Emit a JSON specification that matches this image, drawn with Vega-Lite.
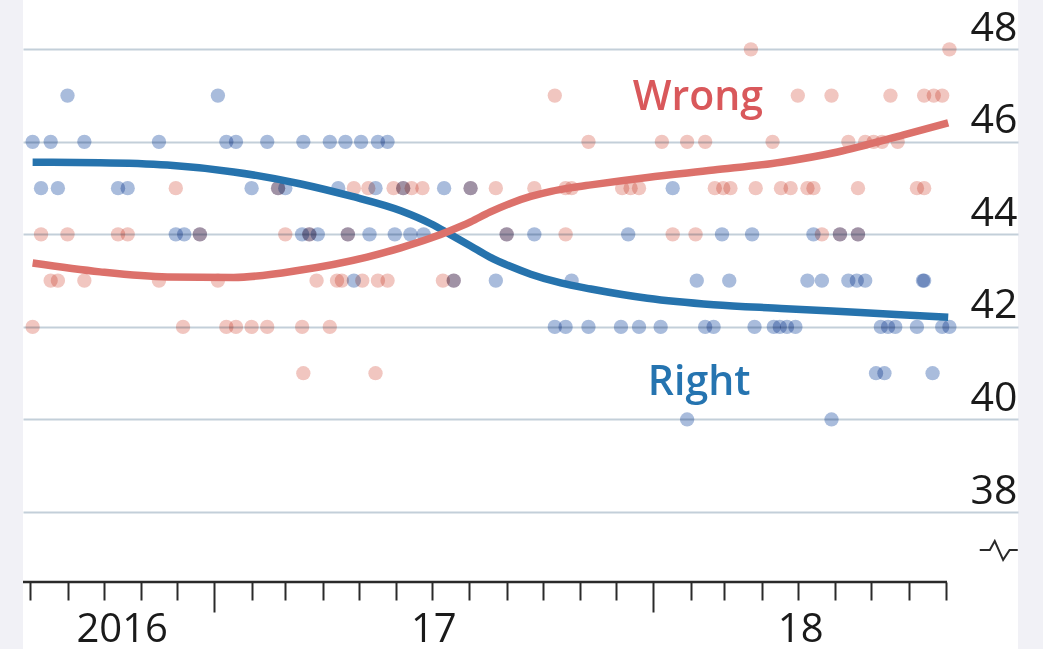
{
  "$schema": "https://vega.github.io/schema/vega-lite/v6.json",
  "autosize": {"type": "none"},
  "width": 995,
  "height": 649,
  "padding": {"left": 23, "right": 25, "top": 0, "bottom": 0},
  "background": "#f1f1f6",
  "config": {
    "view": {"fill": "white", "stroke": null},
    "axis": {"labelFont": "Open Sans", "labelColor": "#1a1a1a", "title": null}
  },
  "datasets": {
    "points": [
      {"s":"Right","d":"2016-09-01","v":47},{"s":"Right","d":"2017-01-04","v":47},
      {"s":"Right","d":"2016-08-03","v":46},{"s":"Right","d":"2016-08-18","v":46},{"s":"Right","d":"2016-09-15","v":46},{"s":"Right","d":"2016-11-16","v":46},{"s":"Right","d":"2017-01-11","v":46},{"s":"Right","d":"2017-01-19","v":46},{"s":"Right","d":"2017-02-14","v":46},{"s":"Right","d":"2017-03-16","v":46},{"s":"Right","d":"2017-04-07","v":46},{"s":"Right","d":"2017-04-20","v":46},{"s":"Right","d":"2017-05-03","v":46},{"s":"Right","d":"2017-05-17","v":46},{"s":"Right","d":"2017-05-25","v":46},
      {"s":"Right","d":"2016-08-10","v":45},{"s":"Right","d":"2016-08-24","v":45},{"s":"Right","d":"2016-10-13","v":45},{"s":"Right","d":"2016-10-21","v":45},{"s":"Right","d":"2017-02-01","v":45},{"s":"Right","d":"2017-02-23","v":45},{"s":"Right","d":"2017-03-01","v":45},{"s":"Right","d":"2017-04-14","v":45},{"s":"Right","d":"2017-05-15","v":45},{"s":"Right","d":"2017-06-07","v":45},{"s":"Right","d":"2017-07-11","v":45},{"s":"Right","d":"2017-08-02","v":45},{"s":"Right","d":"2018-01-17","v":45},
      {"s":"Right","d":"2016-11-30","v":44},{"s":"Right","d":"2016-12-07","v":44},{"s":"Right","d":"2016-12-20","v":44},{"s":"Right","d":"2017-03-15","v":44},{"s":"Right","d":"2017-03-21","v":44},{"s":"Right","d":"2017-03-28","v":44},{"s":"Right","d":"2017-04-22","v":44},{"s":"Right","d":"2017-05-10","v":44},{"s":"Right","d":"2017-05-31","v":44},{"s":"Right","d":"2017-06-13","v":44},{"s":"Right","d":"2017-06-24","v":44},{"s":"Right","d":"2017-09-01","v":44},{"s":"Right","d":"2017-09-24","v":44},{"s":"Right","d":"2017-12-11","v":44},{"s":"Right","d":"2018-02-27","v":44},{"s":"Right","d":"2018-03-24","v":44},{"s":"Right","d":"2018-05-14","v":44},{"s":"Right","d":"2018-06-05","v":44},{"s":"Right","d":"2018-06-20","v":44},
      {"s":"Right","d":"2017-04-27","v":43},{"s":"Right","d":"2017-07-19","v":43},{"s":"Right","d":"2017-08-23","v":43},{"s":"Right","d":"2017-10-25","v":43},{"s":"Right","d":"2018-02-06","v":43},{"s":"Right","d":"2018-03-05","v":43},{"s":"Right","d":"2018-05-09","v":43},{"s":"Right","d":"2018-05-21","v":43},{"s":"Right","d":"2018-06-12","v":43},{"s":"Right","d":"2018-06-19","v":43},{"s":"Right","d":"2018-06-26","v":43},{"s":"Right","d":"2018-08-13","v":43},{"s":"Right","d":"2018-08-14","v":43},
      {"s":"Right","d":"2017-10-11","v":42},{"s":"Right","d":"2017-10-20","v":42},{"s":"Right","d":"2017-11-08","v":42},{"s":"Right","d":"2017-12-05","v":42},{"s":"Right","d":"2017-12-20","v":42},{"s":"Right","d":"2018-01-07","v":42},{"s":"Right","d":"2018-02-13","v":42},{"s":"Right","d":"2018-02-20","v":42},{"s":"Right","d":"2018-03-26","v":42},{"s":"Right","d":"2018-04-11","v":42},{"s":"Right","d":"2018-04-16","v":42},{"s":"Right","d":"2018-04-22","v":42},{"s":"Right","d":"2018-04-29","v":42},{"s":"Right","d":"2018-07-09","v":42},{"s":"Right","d":"2018-07-15","v":42},{"s":"Right","d":"2018-07-21","v":42},{"s":"Right","d":"2018-08-08","v":42},{"s":"Right","d":"2018-08-29","v":42},{"s":"Right","d":"2018-09-04","v":42},
      {"s":"Right","d":"2018-07-05","v":41},{"s":"Right","d":"2018-07-12","v":41},{"s":"Right","d":"2018-08-21","v":41},
      {"s":"Right","d":"2018-01-29","v":40},{"s":"Right","d":"2018-05-29","v":40},
      {"s":"Wrong","d":"2018-03-23","v":48},{"s":"Wrong","d":"2018-09-04","v":48},
      {"s":"Wrong","d":"2017-10-11","v":47},{"s":"Wrong","d":"2018-05-01","v":47},{"s":"Wrong","d":"2018-05-29","v":47},{"s":"Wrong","d":"2018-07-17","v":47},{"s":"Wrong","d":"2018-08-14","v":47},{"s":"Wrong","d":"2018-08-22","v":47},{"s":"Wrong","d":"2018-08-29","v":47},
      {"s":"Wrong","d":"2017-11-08","v":46},{"s":"Wrong","d":"2018-01-08","v":46},{"s":"Wrong","d":"2018-01-29","v":46},{"s":"Wrong","d":"2018-02-13","v":46},{"s":"Wrong","d":"2018-04-10","v":46},{"s":"Wrong","d":"2018-06-12","v":46},{"s":"Wrong","d":"2018-06-26","v":46},{"s":"Wrong","d":"2018-07-03","v":46},{"s":"Wrong","d":"2018-07-10","v":46},{"s":"Wrong","d":"2018-07-23","v":46},
      {"s":"Wrong","d":"2016-11-30","v":45},{"s":"Wrong","d":"2017-02-23","v":45},{"s":"Wrong","d":"2017-04-27","v":45},{"s":"Wrong","d":"2017-05-09","v":45},{"s":"Wrong","d":"2017-05-30","v":45},{"s":"Wrong","d":"2017-06-07","v":45},{"s":"Wrong","d":"2017-06-14","v":45},{"s":"Wrong","d":"2017-06-23","v":45},{"s":"Wrong","d":"2017-08-02","v":45},{"s":"Wrong","d":"2017-08-23","v":45},{"s":"Wrong","d":"2017-09-24","v":45},{"s":"Wrong","d":"2017-10-20","v":45},{"s":"Wrong","d":"2017-10-25","v":45},{"s":"Wrong","d":"2017-12-06","v":45},{"s":"Wrong","d":"2017-12-13","v":45},{"s":"Wrong","d":"2017-12-20","v":45},{"s":"Wrong","d":"2018-02-21","v":45},{"s":"Wrong","d":"2018-02-28","v":45},{"s":"Wrong","d":"2018-03-06","v":45},{"s":"Wrong","d":"2018-03-27","v":45},{"s":"Wrong","d":"2018-04-17","v":45},{"s":"Wrong","d":"2018-04-25","v":45},{"s":"Wrong","d":"2018-05-09","v":45},{"s":"Wrong","d":"2018-05-14","v":45},{"s":"Wrong","d":"2018-06-20","v":45},{"s":"Wrong","d":"2018-08-08","v":45},{"s":"Wrong","d":"2018-08-14","v":45},
      {"s":"Wrong","d":"2016-08-10","v":44},{"s":"Wrong","d":"2016-09-01","v":44},{"s":"Wrong","d":"2016-10-13","v":44},{"s":"Wrong","d":"2016-10-21","v":44},{"s":"Wrong","d":"2016-12-20","v":44},{"s":"Wrong","d":"2017-03-01","v":44},{"s":"Wrong","d":"2017-03-21","v":44},{"s":"Wrong","d":"2017-04-22","v":44},{"s":"Wrong","d":"2017-09-01","v":44},{"s":"Wrong","d":"2017-10-20","v":44},{"s":"Wrong","d":"2018-01-17","v":44},{"s":"Wrong","d":"2018-02-05","v":44},{"s":"Wrong","d":"2018-05-21","v":44},{"s":"Wrong","d":"2018-06-05","v":44},{"s":"Wrong","d":"2018-06-20","v":44},
      {"s":"Wrong","d":"2016-08-18","v":43},{"s":"Wrong","d":"2016-08-24","v":43},{"s":"Wrong","d":"2016-09-15","v":43},{"s":"Wrong","d":"2016-11-16","v":43},{"s":"Wrong","d":"2017-01-04","v":43},{"s":"Wrong","d":"2017-03-27","v":43},{"s":"Wrong","d":"2017-04-13","v":43},{"s":"Wrong","d":"2017-04-17","v":43},{"s":"Wrong","d":"2017-05-04","v":43},{"s":"Wrong","d":"2017-05-17","v":43},{"s":"Wrong","d":"2017-05-25","v":43},{"s":"Wrong","d":"2017-07-10","v":43},{"s":"Wrong","d":"2017-07-19","v":43},
      {"s":"Wrong","d":"2016-08-03","v":42},{"s":"Wrong","d":"2016-12-06","v":42},{"s":"Wrong","d":"2017-01-11","v":42},{"s":"Wrong","d":"2017-01-19","v":42},{"s":"Wrong","d":"2017-02-01","v":42},{"s":"Wrong","d":"2017-02-14","v":42},{"s":"Wrong","d":"2017-03-15","v":42},{"s":"Wrong","d":"2017-04-07","v":42},
      {"s":"Wrong","d":"2017-03-16","v":41},{"s":"Wrong","d":"2017-05-15","v":41}
    ],
    "lines": [
      {"s":"Right","d":"2016-08-03","v":45.56},{"s":"Right","d":"2016-09-28","v":45.55},{"s":"Right","d":"2016-11-23","v":45.5},{"s":"Right","d":"2017-01-17","v":45.35},{"s":"Right","d":"2017-03-14","v":45.09},{"s":"Right","d":"2017-04-24","v":44.83},{"s":"Right","d":"2017-06-05","v":44.51},{"s":"Right","d":"2017-06-30","v":44.23},{"s":"Right","d":"2017-07-16","v":44.0},{"s":"Right","d":"2017-08-02","v":43.75},{"s":"Right","d":"2017-08-18","v":43.51},{"s":"Right","d":"2017-09-04","v":43.31},{"s":"Right","d":"2017-09-21","v":43.14},{"s":"Right","d":"2017-10-16","v":42.95},{"s":"Right","d":"2017-11-10","v":42.82},{"s":"Right","d":"2017-12-27","v":42.62},{"s":"Right","d":"2018-02-20","v":42.48},{"s":"Right","d":"2018-04-17","v":42.4},{"s":"Right","d":"2018-06-22","v":42.31},{"s":"Right","d":"2018-09-03","v":42.21},
      {"s":"Wrong","d":"2016-08-03","v":43.38},{"s":"Wrong","d":"2016-09-28","v":43.19},{"s":"Wrong","d":"2016-11-23","v":43.08},{"s":"Wrong","d":"2017-01-17","v":43.07},{"s":"Wrong","d":"2017-03-14","v":43.23},{"s":"Wrong","d":"2017-05-08","v":43.51},{"s":"Wrong","d":"2017-06-05","v":43.71},{"s":"Wrong","d":"2017-06-30","v":43.92},{"s":"Wrong","d":"2017-07-16","v":44.08},{"s":"Wrong","d":"2017-08-02","v":44.27},{"s":"Wrong","d":"2017-08-18","v":44.48},{"s":"Wrong","d":"2017-09-04","v":44.67},{"s":"Wrong","d":"2017-09-21","v":44.82},{"s":"Wrong","d":"2017-10-08","v":44.93},{"s":"Wrong","d":"2017-10-25","v":45.01},{"s":"Wrong","d":"2017-11-10","v":45.07},{"s":"Wrong","d":"2017-12-27","v":45.23},{"s":"Wrong","d":"2018-02-20","v":45.39},{"s":"Wrong","d":"2018-04-17","v":45.56},{"s":"Wrong","d":"2018-06-03","v":45.78},{"s":"Wrong","d":"2018-07-28","v":46.15},{"s":"Wrong","d":"2018-09-03","v":46.41}
    ],
    "notes": [
      {"k":"axis","d":"2016-07-26","d2":"2018-09-02","v":36.487},
      {"k":"break","d":"2018-10-15","v":37.18},
      {"k":"Wrong","d":"2018-02-07","v":46.69},
      {"k":"Right","d":"2018-02-08","v":40.53}
    ]
  },
  "encoding": {
    "x": {
      "field": "d", "type": "temporal",
      "scale": {"type": "utc", "domain": [{"year": 2016, "month": 7, "date": 26, "utc": true}, {"year": 2018, "month": 10, "date": 31, "utc": true}]},
      "axis": {
        "orient": "bottom", "offset": -67, "domain": false, "grid": false,
        "values": [
          {"year":2016,"month":8,"date":1,"utc":true},{"year":2016,"month":9,"date":1,"utc":true},{"year":2016,"month":10,"date":1,"utc":true},{"year":2016,"month":11,"date":1,"utc":true},{"year":2016,"month":12,"date":1,"utc":true},
          {"year":2017,"month":1,"date":1,"utc":true},{"year":2017,"month":2,"date":1,"utc":true},{"year":2017,"month":3,"date":1,"utc":true},{"year":2017,"month":4,"date":1,"utc":true},{"year":2017,"month":5,"date":1,"utc":true},{"year":2017,"month":6,"date":1,"utc":true},{"year":2017,"month":7,"date":1,"utc":true},{"year":2017,"month":8,"date":1,"utc":true},{"year":2017,"month":9,"date":1,"utc":true},{"year":2017,"month":10,"date":1,"utc":true},{"year":2017,"month":11,"date":1,"utc":true},{"year":2017,"month":12,"date":1,"utc":true},
          {"year":2018,"month":1,"date":1,"utc":true},{"year":2018,"month":2,"date":1,"utc":true},{"year":2018,"month":3,"date":1,"utc":true},{"year":2018,"month":4,"date":1,"utc":true},{"year":2018,"month":5,"date":1,"utc":true},{"year":2018,"month":6,"date":1,"utc":true},{"year":2018,"month":7,"date":1,"utc":true},{"year":2018,"month":8,"date":1,"utc":true},{"year":2018,"month":9,"date":1,"utc":true},
          {"year":2016,"month":10,"date":16,"utc":true},{"year":2017,"month":7,"date":2,"utc":true},{"year":2018,"month":5,"date":3,"utc":true}
        ],
        "tickColor": "#2a2a2a", "tickWidth": 2,
        "tickSize": {"condition": {"test": "utcmonth(datum.value) == 0 && utcdate(datum.value) == 1", "value": 30}, "value": 18},
        "tickOpacity": {"condition": {"test": "utcdate(datum.value) != 1", "value": 0}, "value": 1},
        "labelExpr": "utcdate(datum.value) == 1 ? '' : (utcyear(datum.value) == 2016 ? '2016' : utcFormat(datum.value, '%y'))",
        "labelFontSize": 40, "labelPadding": 9, "labelOverlap": false, "labelFlush": false, "labelBound": false
      }
    },
    "y": {
      "field": "v", "type": "quantitative",
      "scale": {"domain": [35.039, 49.066], "zero": false, "nice": false},
      "axis": {
        "orient": "right", "values": [38, 40, 42, 44, 46, 48], "domain": false, "ticks": false, "tickSize": 0,
        "grid": true, "gridColor": "#c3cfd9", "gridWidth": 2,
        "labelAlign": "right", "labelBaseline": "alphabetic", "labelPadding": -1, "labelOffset": -9,
        "labelFontSize": 41
      }
    }
  },
  "layer": [
    {
      "data": {"name": "points"},
      "mark": {"type": "circle", "size": 205, "opacity": 1, "blend": "multiply"},
      "encoding": {
        "color": {"field": "s", "type": "nominal", "scale": {"domain": ["Right", "Wrong"], "range": ["#a9bcdc", "#f1c6c0"]}, "legend": null}
      }
    },
    {
      "data": {"name": "lines"},
      "transform": [{"filter": "datum.s == 'Right'"}],
      "mark": {"type": "line", "color": "#2673ad", "strokeWidth": 7.5, "interpolate": "monotone", "strokeCap": "butt"}
    },
    {
      "data": {"name": "lines"},
      "transform": [{"filter": "datum.s == 'Wrong'"}],
      "mark": {"type": "line", "color": "#dc716b", "strokeWidth": 7.5, "interpolate": "monotone", "strokeCap": "butt"}
    },
    {
      "data": {"name": "notes"},
      "transform": [{"filter": "datum.k == 'axis'"}],
      "mark": {"type": "rule", "color": "#2a2a2a", "strokeWidth": 2.5},
      "encoding": {"x2": {"field": "d2"}}
    },
    {
      "data": {"name": "notes"},
      "transform": [{"filter": "datum.k == 'break'"}],
      "mark": {"type": "point", "shape": "M-1,0L-0.47,0L-0.21,-0.47L0.23,0.52L0.57,0L1,0", "size": 1444, "filled": false, "stroke": "#2a2a2a", "strokeWidth": 2, "opacity": 1}
    },
    {
      "data": {"name": "notes"},
      "transform": [{"filter": "datum.k == 'Wrong'"}],
      "mark": {"type": "text", "font": "Open Sans", "fontSize": 41, "fontWeight": 600, "fill": "#d9585b", "align": "center", "baseline": "alphabetic"},
      "encoding": {"text": {"field": "k"}}
    },
    {
      "data": {"name": "notes"},
      "transform": [{"filter": "datum.k == 'Right'"}],
      "mark": {"type": "text", "font": "Open Sans", "fontSize": 41, "fontWeight": 600, "fill": "#2574b0", "align": "center", "baseline": "alphabetic"},
      "encoding": {"text": {"field": "k"}}
    }
  ]
}
